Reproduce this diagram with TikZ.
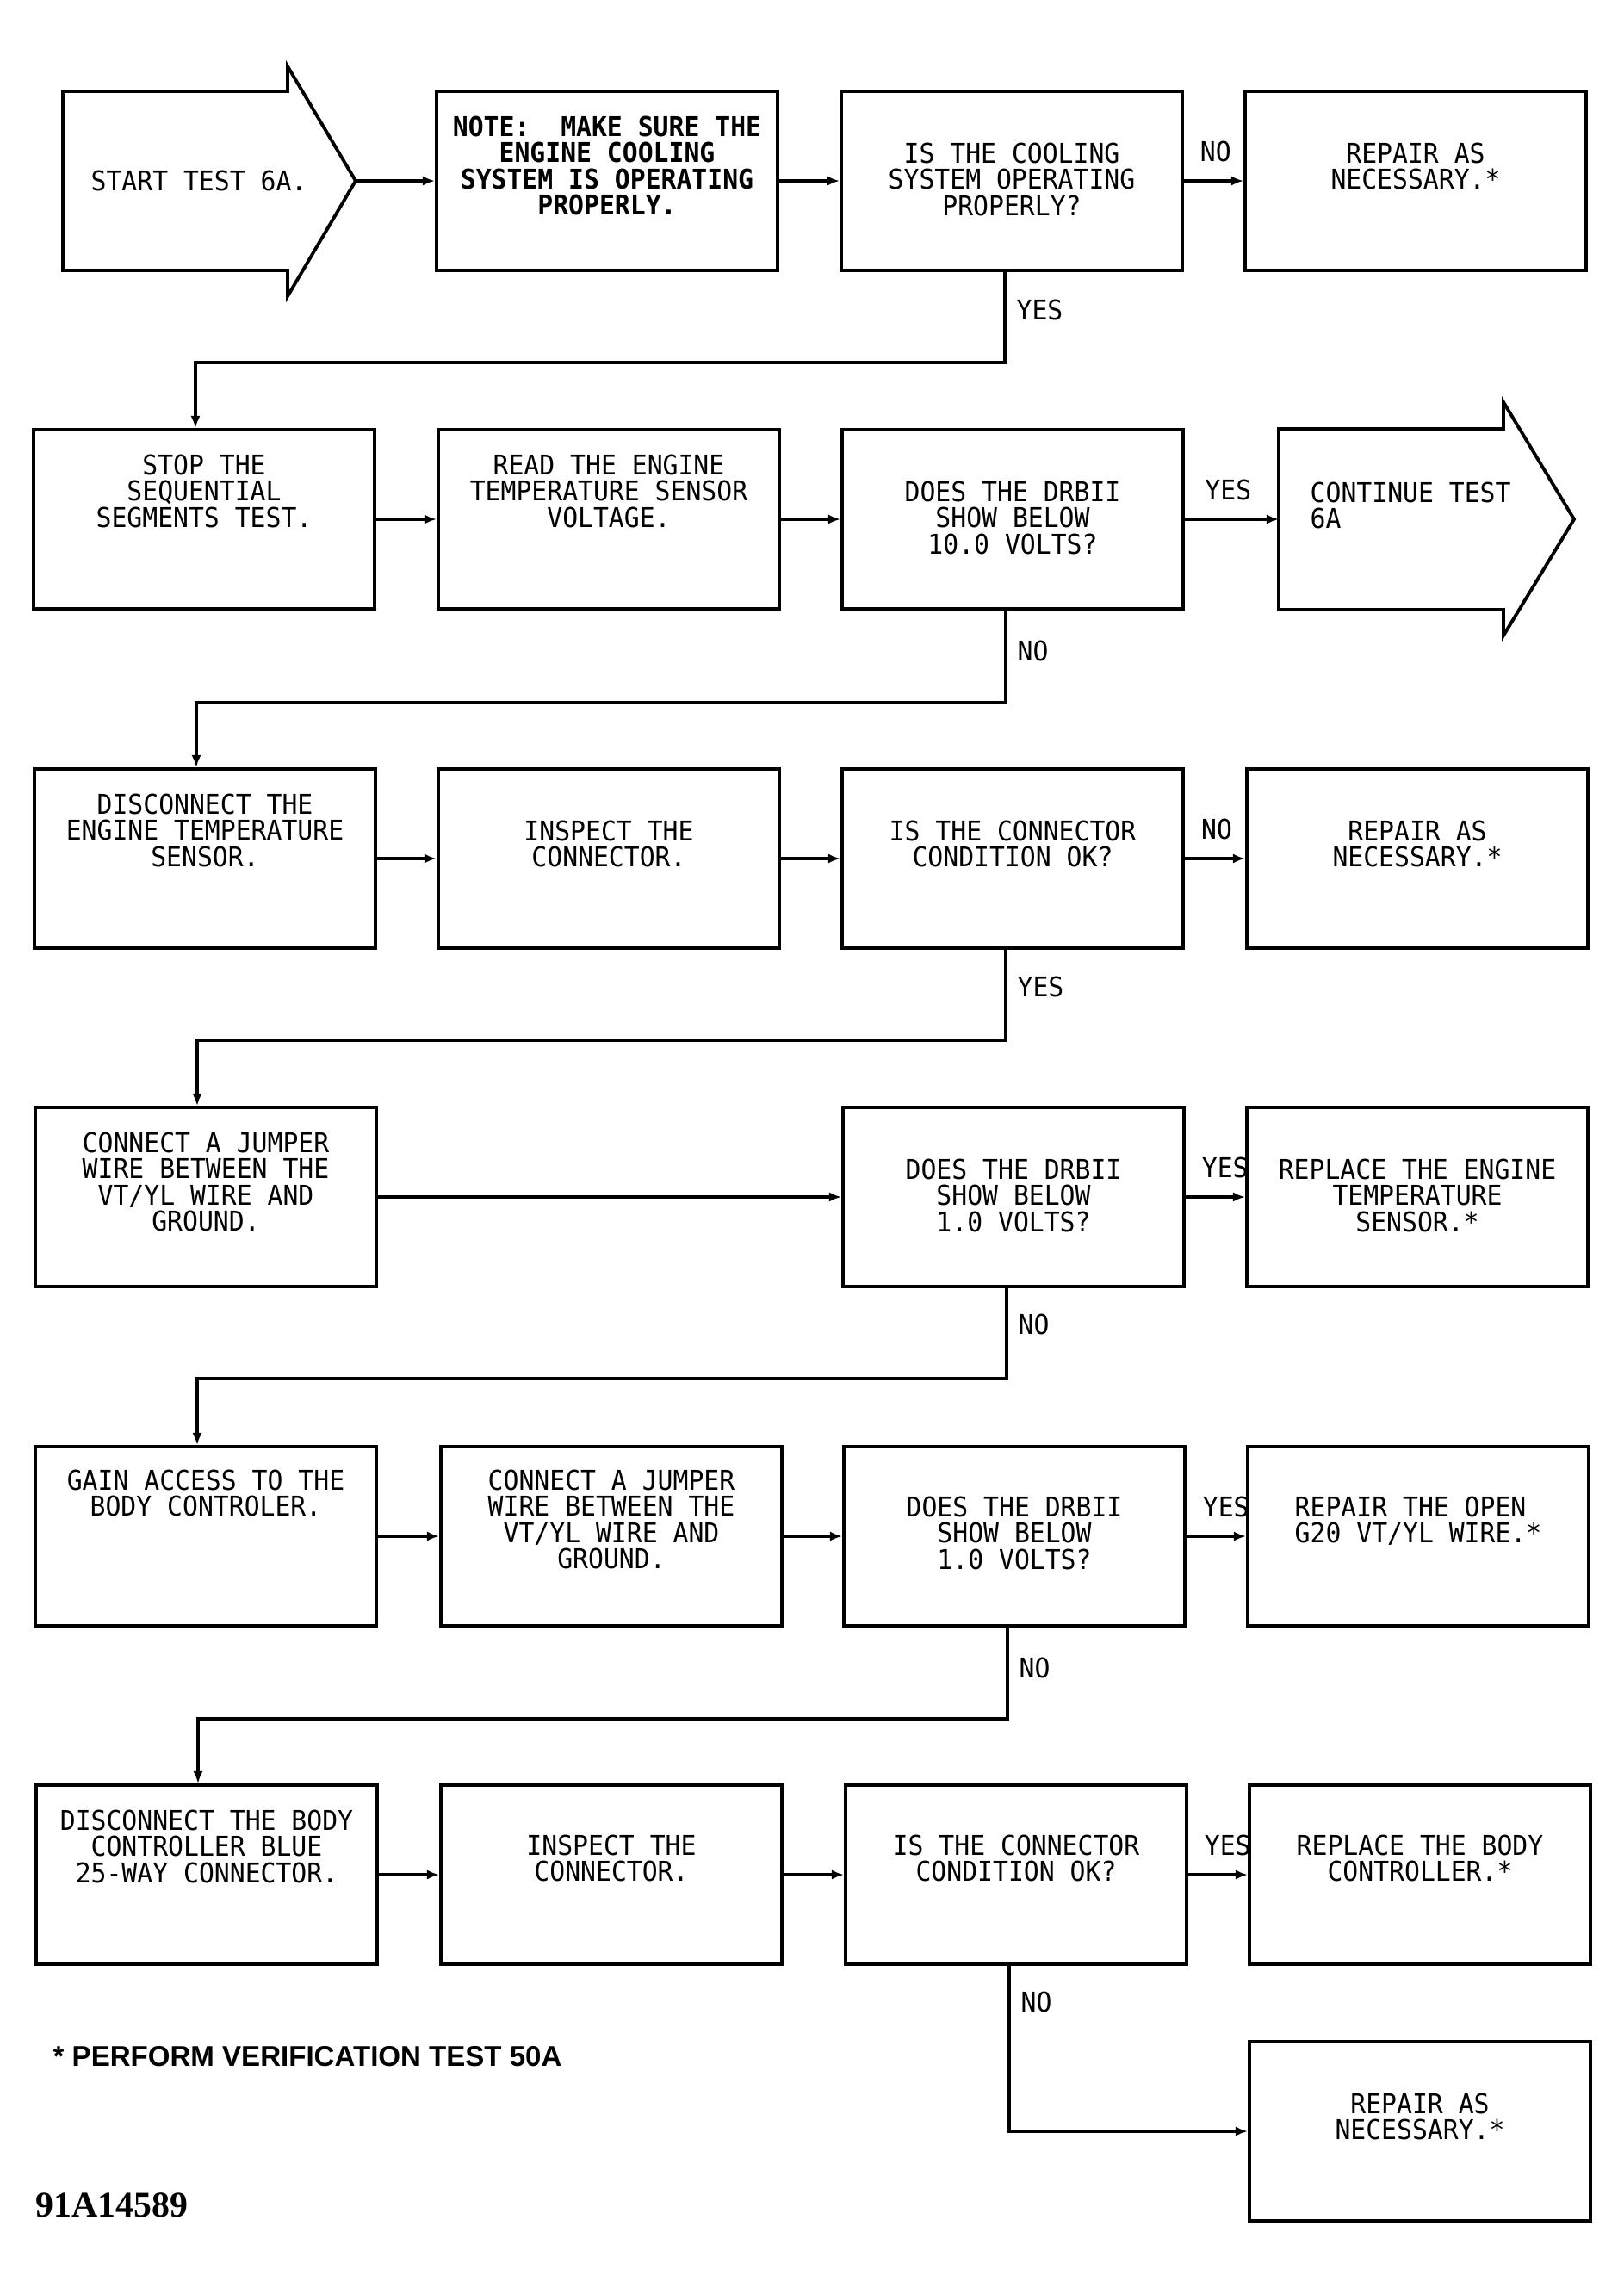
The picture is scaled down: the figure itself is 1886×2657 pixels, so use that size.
\documentclass[tikz,border=0pt]{standalone}
\usepackage{fontspec}
\setmainfont{Liberation Sans}
\newfontfamily\chartfont{DejaVu Sans Mono}[FakeStretch=0.94]
\newfontfamily\serialfont{Liberation Serif}
\usetikzlibrary{arrows.meta,calc,positioning}

\begin{document}
\begin{tikzpicture}[x=0.01cm, y=-0.01cm,
    box/.style={draw, line width=1.1pt, minimum width=3.96cm, minimum height=2.08cm, inner sep=0pt},
    txt/.style={font=\chartfont\fontsize{9}{8.65}\selectfont, align=center, inner sep=0pt, anchor=north},
    txtb/.style={txt, font=\chartfont\bfseries\fontsize{9}{8.65}\selectfont},
    lbl/.style={font=\chartfont\fontsize{9}{8.65}\selectfont, inner sep=0pt},
    flow/.style={line width=0.9pt, -{Latex[length=4pt,width=3.2pt]}}]

    % --- Page size ---
    \useasboundingbox (0,0) rectangle (1886,2657);

    % --- Row 1 ---
    % Start arrow
    \draw[line width=1.1pt] (73,106) -- (334,106) -- (334,77) -- (413,210)
        -- (334,344) -- (334,314) -- (73,314) -- cycle;
    \coordinate (starttip) at (413,210);
    \node[txt, anchor=center] (tstart) at (231,210) {START TEST 6A.};

    \node[box] (note) at (705,210) {};
    \node[txtb] (tnote) at ($(note.north)+(0,30)$) {NOTE:\ \ MAKE SURE THE\\ENGINE COOLING\\SYSTEM IS OPERATING\\PROPERLY.};
    \node[box] (q1) at (1175,210) {};
    \node[txt] (tq1) at ($(q1.north)+(0,61)$) {IS THE COOLING\\SYSTEM OPERATING\\PROPERLY?};
    \node[box] (r1) at (1644,210) {};
    \node[txt] (tr1) at ($(r1.north)+(0,61)$) {REPAIR AS\\NECESSARY.*};

    \draw[flow] (starttip) -- (note);
    \draw[flow] (note) -- (q1);
    \draw[flow] (q1) -- node[lbl, pos=0.25, anchor=south west, yshift=0.2cm] (no1) {NO} (r1);

    % --- Row 2 ---
    \node[box] (s2) at (237,603) {};
    \node[txt] (ts2) at ($(s2.north)+(0,30)$) {STOP THE\\SEQUENTIAL\\SEGMENTS TEST.};
    \node[box] (v2) at (707,603) {};
    \node[txt] (tv2) at ($(v2.north)+(0,30)$) {READ THE ENGINE\\TEMPERATURE SENSOR\\VOLTAGE.};
    \node[box] (q2) at (1176,603) {};
    \node[txt] (tq2) at ($(q2.north)+(0,61)$) {DOES THE DRBII\\SHOW BELOW\\10.0 VOLTS?};

    % Continue arrow
    \draw[line width=1.1pt] (1485,498) -- (1746,498) -- (1746,467) -- (1828,603)
        -- (1746,738) -- (1746,708) -- (1485,708) -- cycle;
    \coordinate (conttail) at (1485,603);
    \node[txt, anchor=north west, align=left] (tcont) at (1521,559) {CONTINUE TEST\\6A};

    \draw[flow] ([xshift=-0.08cm]q1.south) -- node[lbl, pos=0.42, anchor=west, xshift=0.12cm] (yes1) {YES} ++(0,105) -| ([xshift=-0.1cm]s2.north);
    \draw[flow] (s2) -- (v2);
    \draw[flow] (v2) -- (q2);
    \draw[flow] (q2) -- node[lbl, pos=0.2, anchor=south west, yshift=0.2cm] (yes2) {YES} (conttail);

    % --- Row 3 ---
    \node[box] (s3) at (238,997) {};
    \node[txt] (ts3) at ($(s3.north)+(0,30)$) {DISCONNECT THE\\ENGINE TEMPERATURE\\SENSOR.};
    \node[box] (v3) at (707,997) {};
    \node[txt] (tv3) at ($(v3.north)+(0,61)$) {INSPECT THE\\CONNECTOR.};
    \node[box] (q3) at (1176,997) {};
    \node[txt] (tq3) at ($(q3.north)+(0,61)$) {IS THE CONNECTOR\\CONDITION OK?};
    \node[box] (r3) at (1646,997) {};
    \node[txt] (tr3) at ($(r3.north)+(0,61)$) {REPAIR AS\\NECESSARY.*};

    \draw[flow] ([xshift=-0.08cm]q2.south) -- node[lbl, pos=0.44, anchor=west, xshift=0.12cm] (no2) {NO} ++(0,107) -| ([xshift=-0.1cm]s3.north);
    \draw[flow] (s3) -- (v3);
    \draw[flow] (v3) -- (q3);
    \draw[flow] (q3) -- node[lbl, pos=0.25, anchor=south west, yshift=0.2cm] (no3) {NO} (r3);

    % --- Row 4 ---
    \node[box] (s4) at (239,1390) {};
    \node[txt] (ts4) at ($(s4.north)+(0,30)$) {CONNECT A JUMPER\\WIRE BETWEEN THE\\VT/YL WIRE AND\\GROUND.};
    \node[box] (q4) at (1177,1390) {};
    \node[txt] (tq4) at ($(q4.north)+(0,61)$) {DOES THE DRBII\\SHOW BELOW\\1.0 VOLTS?};
    \node[box] (r4) at (1646,1390) {};
    \node[txt] (tr4) at ($(r4.north)+(0,61)$) {REPLACE THE ENGINE\\TEMPERATURE\\SENSOR.*};

    \draw[flow] ([xshift=-0.08cm]q3.south) -- node[lbl, pos=0.41, anchor=west, xshift=0.12cm] (yes3) {YES} ++(0,105) -| ([xshift=-0.1cm]s4.north);
    \draw[flow] (s4) -- (q4);
    \draw[flow] (q4) -- node[lbl, pos=0.25, anchor=south west, yshift=0.2cm] (yes4) {YES} (r4);

    % --- Row 5 ---
    \node[box] (s5) at (239,1784) {};
    \node[txt] (ts5) at ($(s5.north)+(0,28)$) {GAIN ACCESS TO THE\\BODY CONTROLER.};
    \node[box] (v5) at (710,1784) {};
    \node[txt] (tv5) at ($(v5.north)+(0,28)$) {CONNECT A JUMPER\\WIRE BETWEEN THE\\VT/YL WIRE AND\\GROUND.};
    \node[box] (q5) at (1178,1784) {};
    \node[txt] (tq5) at ($(q5.north)+(0,59)$) {DOES THE DRBII\\SHOW BELOW\\1.0 VOLTS?};
    \node[box] (r5) at (1647,1784) {};
    \node[txt, align=left] (tr5) at ($(r5.north)+(0,59)$) {REPAIR THE OPEN\\G20 VT/YL WIRE.*};

    \draw[flow] ([xshift=-0.08cm]q4.south) -- node[lbl, pos=0.4, anchor=west, xshift=0.12cm] (no4) {NO} ++(0,105) -| ([xshift=-0.1cm]s5.north);
    \draw[flow] (s5) -- (v5);
    \draw[flow] (v5) -- (q5);
    \draw[flow] (q5) -- node[lbl, pos=0.25, anchor=south west, yshift=0.2cm] (yes5) {YES} (r5);

    % --- Row 6 ---
    \node[box] (s6) at (240,2177) {};
    \node[txt] (ts6) at ($(s6.north)+(0,30)$) {DISCONNECT THE BODY\\CONTROLLER BLUE\\25-WAY CONNECTOR.};
    \node[box] (v6) at (710,2177) {};
    \node[txt] (tv6) at ($(v6.north)+(0,59)$) {INSPECT THE\\CONNECTOR.};
    \node[box] (q6) at (1180,2177) {};
    \node[txt] (tq6) at ($(q6.north)+(0,59)$) {IS THE CONNECTOR\\CONDITION OK?};
    \node[box] (r6) at (1649,2177) {};
    \node[txt] (tr6) at ($(r6.north)+(0,59)$) {REPLACE THE BODY\\CONTROLLER.*};

    \draw[flow] ([xshift=-0.08cm]q5.south) -- node[lbl, pos=0.44, anchor=west, xshift=0.12cm] (no5) {NO} ++(0,106) -| ([xshift=-0.1cm]s6.north);
    \draw[flow] (s6) -- (v6);
    \draw[flow] (v6) -- (q6);
    \draw[flow] (q6) -- node[lbl, pos=0.25, anchor=south west, yshift=0.2cm] (yes6) {YES} (r6);

    % --- Last repair ---
    \node[box] (r7) at (1649,2475) {};
    \node[txt] (tr7) at ($(r7.north)+(0,61)$) {REPAIR AS\\NECESSARY.*};
    \draw[flow] ([xshift=-0.08cm]q6.south) |- node[lbl, pos=0.11, anchor=west, xshift=0.12cm] (no6) {NO} (r7.west);

    % --- Footnote and figure number ---
    \node[anchor=base west, inner sep=0pt, font=\bfseries\fontsize{9.4}{11}\selectfont] (foot) at (61,2399) {* PERFORM VERIFICATION TEST 50A};
    \node[anchor=base west, inner sep=0pt, font=\serialfont\bfseries\fontsize{11.9}{14}\selectfont] (figno) at (41,2574) {91A14589};

\end{tikzpicture}
\end{document}
